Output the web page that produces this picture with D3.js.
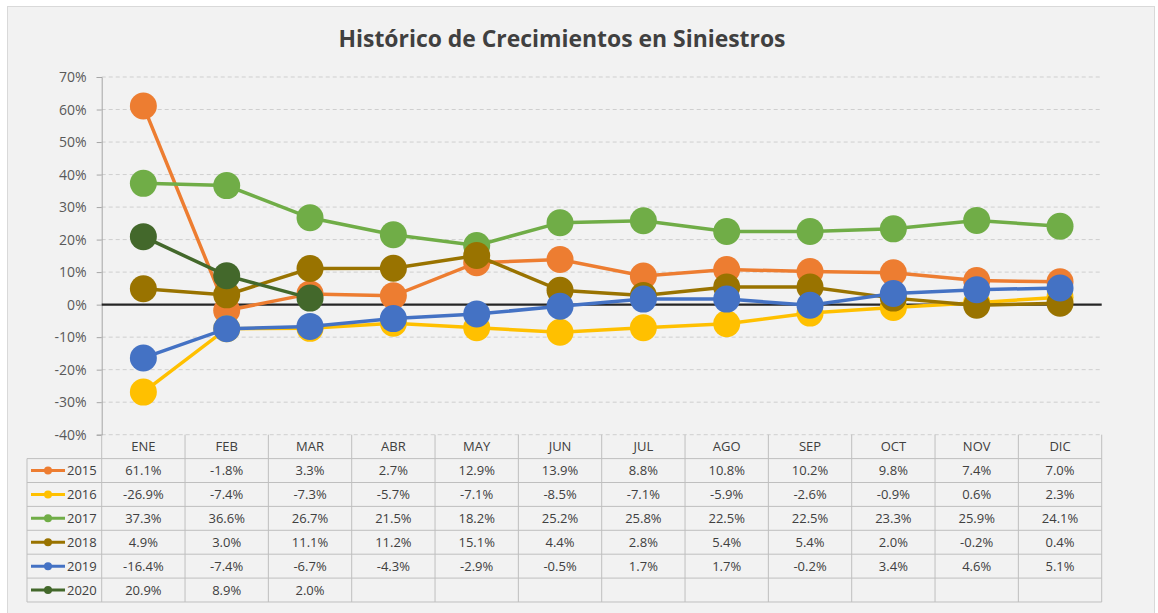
<!DOCTYPE html>
<html>
<head>
<meta charset="utf-8">
<script src="https://cdn.jsdelivr.net/npm/d3@7"></script>
<style>
  body { margin: 0; background: #ffffff; }
  text { font-family: "Open Sans", "Noto Sans", sans-serif; }
</style>
</head>
<body>
<div id="chart"></div>
<script>
// data
var months = ["ENE", "FEB", "MAR", "ABR", "MAY", "JUN", "JUL", "AGO", "SEP", "OCT", "NOV", "DIC"];
var years = ["2015", "2016", "2017", "2018", "2019", "2020"];
var colors = ["#ED7D31", "#FFC000", "#70AD47", "#997300", "#4472C4", "#43682B"];
var v2015 = [61.1, -1.8, 3.3, 2.7, 12.9, 13.9, 8.8, 10.8, 10.2, 9.8, 7.4, 7.0];
var v2016 = [-26.9, -7.4, -7.3, -5.7, -7.1, -8.5, -7.1, -5.9, -2.6, -0.9, 0.6, 2.3];
var v2017 = [37.3, 36.6, 26.7, 21.5, 18.2, 25.2, 25.8, 22.5, 22.5, 23.3, 25.9, 24.1];
var v2018 = [4.9, 3.0, 11.1, 11.2, 15.1, 4.4, 2.8, 5.4, 5.4, 2.0, -0.2, 0.4];
var v2019 = [-16.4, -7.4, -6.7, -4.3, -2.9, -0.5, 1.7, 1.7, -0.2, 3.4, 4.6, 5.1];
var v2020 = [20.9, 8.9, 2.0, null, null, null, null, null, null, null, null, null];
var yTicks = [-40, -30, -20, -10, 0, 10, 20, 30, 40, 50, 60, 70];

var series = years.map(function (y, i) {
    return { year: y, color: colors[i], values: [v2015, v2016, v2017, v2018, v2019, v2020][i] };
});

var W = 1158, H = 613;
var plotLeft = 101.7, plotRight = 1101.7, plotTop = 77, plotBottom = 434.7;
var rowH = 23.9;

var svg = d3.select("#chart").append("svg")
    .attr("width", W)
    .attr("height", H);

// chart area background + border
svg.append("rect")
    .attr("x", 7.5).attr("y", 6.5)
    .attr("width", 1147).attr("height", 612)
    .attr("fill", "#f2f2f2")
    .attr("stroke", "#d9d9d9");

// title
svg.append("text")
    .attr("x", 562).attr("y", 46.5)
    .attr("text-anchor", "middle")
    .attr("font-size", 24)
    .attr("font-weight", "bold")
    .attr("fill", "#404040")
    .attr("textLength", 447)
    .attr("lengthAdjust", "spacingAndGlyphs")
    .text("Histórico de Crecimientos en Siniestros");

// scales
var x = d3.scaleBand().domain(months).range([plotLeft, plotRight]);
var y = d3.scaleLinear().domain([-40, 70]).range([plotBottom, plotTop]);

// gridlines
svg.append("g")
    .selectAll("line")
    .data(yTicks)
    .enter()
    .append("line")
    .attr("x1", plotLeft).attr("x2", plotRight)
    .attr("y1", function (d) { return y(d); })
    .attr("y2", function (d) { return y(d); })
    .attr("stroke", "#cfcfcf")
    .attr("stroke-dasharray", "4,3");

// y axis
var yAxis = svg.append("g")
    .attr("transform", "translate(" + plotLeft + ",0)")
    .call(d3.axisLeft(y).tickValues(yTicks).tickSize(5).tickPadding(10)
        .tickFormat(function (d) { return d + "%"; }));
yAxis.select(".domain").attr("stroke", "#a6a6a6");
yAxis.selectAll(".tick line").attr("stroke", "#a6a6a6");
yAxis.selectAll(".tick text")
    .attr("font-size", 14)
    .attr("fill", "#595959")
    .style("font-family", "'Open Sans', sans-serif");

// zero line
svg.append("line")
    .attr("x1", plotLeft).attr("x2", plotRight)
    .attr("y1", y(0)).attr("y2", y(0))
    .attr("stroke", "#262626")
    .attr("stroke-width", 2.2);

// series
var line = d3.line()
    .defined(function (d) { return d != null; })
    .x(function (d, i) { return x(months[i]) + x.bandwidth() / 2; })
    .y(function (d) { return y(d); });

series.forEach(function (s) {
    var g = svg.append("g");
    g.append("path")
        .datum(s.values)
        .attr("d", line)
        .attr("fill", "none")
        .attr("stroke", s.color)
        .attr("stroke-width", 3.5);
    g.selectAll("circle")
        .data(s.values.map(function (v, i) { return { v: v, m: months[i] }; })
            .filter(function (d) { return d.v != null; }))
        .enter()
        .append("circle")
        .attr("cx", function (d) { return x(d.m) + x.bandwidth() / 2; })
        .attr("cy", function (d) { return y(d.v); })
        .attr("r", 13.5)
        .attr("fill", s.color);
});

// data table
var table = svg.append("g");
var tBottom = plotBottom + rowH + rowH * years.length;
var gridColor = "#bfbfbf";

// vertical borders for month columns
table.selectAll("line.v")
    .data(d3.range(months.length + 1))
    .enter()
    .append("line")
    .attr("x1", function (i) { return plotLeft + i * x.bandwidth(); })
    .attr("x2", function (i) { return plotLeft + i * x.bandwidth(); })
    .attr("y1", plotBottom).attr("y2", tBottom)
    .attr("stroke", gridColor);

// legend column left border
table.append("line")
    .attr("x1", 27).attr("x2", 27)
    .attr("y1", plotBottom + rowH).attr("y2", tBottom)
    .attr("stroke", gridColor);

// horizontal borders
table.selectAll("line.h")
    .data(d3.range(years.length + 1))
    .enter()
    .append("line")
    .attr("x1", 27).attr("x2", plotRight)
    .attr("y1", function (i) { return plotBottom + rowH * (i + 1); })
    .attr("y2", function (i) { return plotBottom + rowH * (i + 1); })
    .attr("stroke", gridColor);

// month headers
table.selectAll("text.m")
    .data(months)
    .enter()
    .append("text")
    .attr("x", function (d) { return x(d) + x.bandwidth() / 2; })
    .attr("y", plotBottom + rowH / 2 + 4.5)
    .attr("text-anchor", "middle")
    .attr("font-size", 13)
    .attr("fill", "#404040")
    .text(function (d) { return d; });

// rows
series.forEach(function (s, r) {
    var cy = plotBottom + rowH * (r + 1) + rowH / 2;
    table.append("line")
        .attr("x1", 31).attr("x2", 65)
        .attr("y1", cy).attr("y2", cy)
        .attr("stroke", s.color)
        .attr("stroke-width", 3);
    table.append("circle")
        .attr("cx", 48).attr("cy", cy)
        .attr("r", 4)
        .attr("fill", s.color);
    table.append("text")
        .attr("x", 67).attr("y", cy + 4.5)
        .attr("font-size", 13)
        .attr("fill", "#404040")
        .text(s.year);
    table.selectAll(null)
        .data(s.values.map(function (v, i) { return { v: v, m: months[i] }; })
            .filter(function (d) { return d.v != null; }))
        .enter()
        .append("text")
        .attr("x", function (d) { return x(d.m) + x.bandwidth() / 2; })
        .attr("y", cy + 4.5)
        .attr("text-anchor", "middle")
        .attr("font-size", 13)
        .attr("fill", "#404040")
        .text(function (d) { return d.v.toFixed(1) + "%"; });
});
</script>
</body>
</html>
